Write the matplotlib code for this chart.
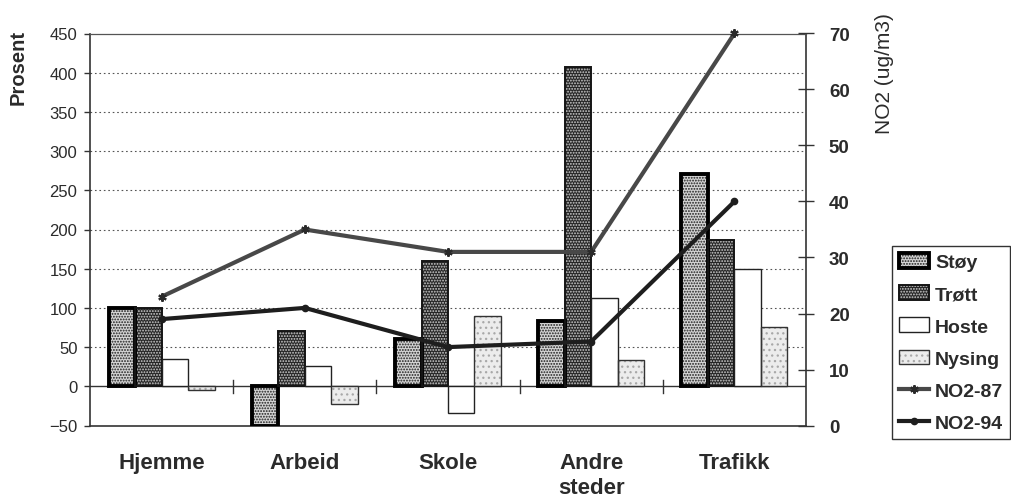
import matplotlib
matplotlib.use("Agg")
import matplotlib.pyplot as plt
import numpy as np

plt.rcParams['font.family'] = ['Liberation Sans', 'DejaVu Sans']
plt.rcParams['hatch.linewidth'] = 0.9

categories = ["Hjemme", "Arbeid", "Skole", "Andre\nsteder", "Trafikk"]
stoy = [100, -50, 60, 83, 271]
trott = [100, 70, 160, 407, 187]
hoste = [35, 26, -34, 113, 149]
nysing = [-5, -22, 90, 34, 76]
no2_87 = [23, 35, 31, 31, 70]
no2_94 = [19, 21, 14, 15, 40]

left_ticks = list(range(-50, 451, 50))
right_ticks = list(range(0, 71, 10))

W, H = 1011, 502
fig = plt.figure(figsize=(W / 100, H / 100), dpi=100)
ax = fig.add_axes([90 / W, 1 - 426.5 / H, 716 / W, 392 / H])
ax2 = ax.twinx()

x = np.arange(len(categories))
bw = 0.185
txt = '#2b2b2b'

def hatched_bar(xpos, vals, face, hatch, hatch_col, edge_lw, edge_col='black'):
    b1 = ax.bar(xpos, vals, bw, color=face, edgecolor=hatch_col, linewidth=0,
                hatch=hatch, zorder=3)
    b2 = ax.bar(xpos, vals, bw, fill=False, edgecolor=edge_col,
                linewidth=edge_lw, zorder=4)
    return b1, b2

h_stoy = hatched_bar(x - 1.5 * bw, stoy, '#d4d4d4', '......', '#1e1e1e', 2.8)
h_trott = hatched_bar(x - 0.5 * bw, trott, '#262626', '......', '#cfcfcf', 1.4, '#151515')
h_hoste = hatched_bar(x + 0.5 * bw, hoste, 'white', None, 'white', 1.0, '#222222')
h_nys = hatched_bar(x + 1.5 * bw, nysing, '#ececec', '...', '#a8a8a8', 1.0, '#333333')

ax.set_xlim(-0.5, len(categories) - 0.5)
ax.set_ylim(-50, 450)
ax.set_yticks(left_ticks)
for v in left_ticks[2:-1]:
    ax.axhline(v, color='#555555', lw=0.8, ls=(0, (1.5, 2.5)), zorder=1)
ax.axhline(0, color='#333333', lw=1.0, zorder=2)
for b in np.arange(0.5, len(categories) - 0.5, 1.0):
    ax.plot([b, b], [-8, 8], color='#333333', lw=1.0, zorder=2)

ax.set_xticks(x)
ax.set_xticklabels(categories, fontsize=16, fontweight='bold', color=txt,
                   linespacing=1.25)
ax.tick_params(axis='x', length=0, pad=19)
ax.tick_params(axis='y', direction='out', length=4, width=1, colors='#333333',
               labelsize=12, labelcolor=txt, pad=5)

for s in ['left', 'bottom', 'right']:
    ax.spines[s].set_color('#333333')
    ax.spines[s].set_linewidth(1.2)
ax.spines['top'].set_color('#555555')
ax.spines['top'].set_linewidth(0.9)

fig.text(18 / W, 1 - 30 / H, 'Prosent', rotation=90, ha='center', va='top',
         fontsize=14.5, fontweight='bold', color=txt)

ax2.set_ylim(0, 70)
ax2.set_yticks(right_ticks)
ax2.tick_params(axis='y', direction='inout', length=11, width=1, colors='#333333',
                labelsize=13.5, labelcolor=txt, pad=11)
for lbl in ax2.get_yticklabels():
    lbl.set_fontweight('bold')
for s in ax2.spines.values():
    s.set_visible(False)

l87, = ax2.plot(x, no2_87, color='#484848', lw=3, marker=(6, 2, 0), ms=6,
                mew=1.5, mec='#2a2a2a', zorder=5, clip_on=False)
l94, = ax2.plot(x, no2_94, color='#1e1e1e', lw=3, marker='o', ms=4.5,
                zorder=6, clip_on=False)

fig.text(884 / W, 1 - 13 / H, 'NO2 (ug/m3)', rotation=90, ha='center',
         va='top', fontsize=15, color=txt)

handles = [h_stoy, h_trott, h_hoste, h_nys, l87, l94]
labels = ['Støy', 'Trøtt', 'Hoste', 'Nysing', 'NO2-87', 'NO2-94']
leg = fig.legend([(a[0], a[1]) if isinstance(a, tuple) else a for a in handles],
                 labels, loc='upper left',
                 bbox_to_anchor=(892 / W, 1 - 247 / H), borderaxespad=0,
                 frameon=True, fancybox=False, framealpha=1,
                 edgecolor='#333333', handlelength=1.55, handleheight=0.8,
                 handletextpad=0.3, labelspacing=0.72, borderpad=0.36,
                 prop={'weight': 'bold', 'size': 14})
leg.get_frame().set_linewidth(1.0)
for t in leg.get_texts():
    t.set_color(txt)

fig.savefig('out.png', dpi=100)
